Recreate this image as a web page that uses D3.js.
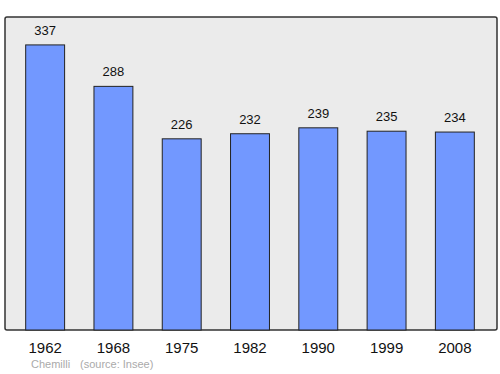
<!DOCTYPE html>
<html>
<head>
<meta charset="utf-8">
<script src="https://cdn.jsdelivr.net/npm/d3@7"></script>
<style>
  body { margin: 0; background: #fff; }
  text { font-family: "Liberation Sans", Arial, sans-serif; }
</style>
</head>
<body>
<div id="chart"></div>
<script>
// population data
var years = ["1962", "1968", "1975", "1982", "1990", "1999", "2008"];
var population = [337, 288, 226, 232, 239, 235, 234];
var commune = "Chemilli";
var source = "(source: Insee)";

var width = 500, height = 374;
var frame = {left: 5, top: 17, right: 497, bottom: 330};

var svg = d3.select("#chart").append("svg")
    .attr("width", width)
    .attr("height", height);

// background frame
svg.append("rect")
    .attr("x", frame.left)
    .attr("y", frame.top)
    .attr("width", frame.right - frame.left)
    .attr("height", frame.bottom - frame.top)
    .attr("rx", 2)
    .attr("fill", "#ebebeb")
    .attr("stroke", "#333")
    .attr("stroke-width", 1.5);

// scales
var x = d3.scaleBand()
    .domain(years)
    .range([11, 489])
    .paddingInner(0.43)
    .paddingOuter(0.215);

var y = d3.scaleLinear()
    .domain([0, 370])
    .range([frame.bottom, frame.top]);

// bars
svg.selectAll(".bar")
    .data(population)
    .enter()
    .append("rect")
    .attr("class", "bar")
    .attr("x", function(d, i) { return x(years[i]); })
    .attr("y", function(d) { return y(d); })
    .attr("width", x.bandwidth())
    .attr("height", function(d) { return y(0) - y(d); })
    .attr("fill", "#7298ff")
    .attr("stroke", "#222")
    .attr("stroke-width", 1);

// value labels
svg.selectAll(".value")
    .data(population)
    .enter()
    .append("text")
    .attr("class", "value")
    .attr("x", function(d, i) { return x(years[i]) + x.bandwidth() / 2; })
    .attr("y", function(d) { return y(d) - 10; })
    .attr("text-anchor", "middle")
    .attr("font-size", 13)
    .attr("fill", "#111")
    .text(function(d) { return d; });

// year labels
svg.selectAll(".year")
    .data(years)
    .enter()
    .append("text")
    .attr("class", "year")
    .attr("x", function(d) { return x(d) + x.bandwidth() / 2; })
    .attr("y", 353)
    .attr("text-anchor", "middle")
    .attr("font-size", 15)
    .attr("fill", "#111")
    .text(function(d) { return d; });

// footnote
svg.append("text")
    .attr("x", 31)
    .attr("y", 368)
    .attr("font-size", 11)
    .attr("fill", "#aaa")
    .text(commune);

svg.append("text")
    .attr("x", 80)
    .attr("y", 368)
    .attr("font-size", 11)
    .attr("fill", "#aaa")
    .text(source);
</script>
</body>
</html>
